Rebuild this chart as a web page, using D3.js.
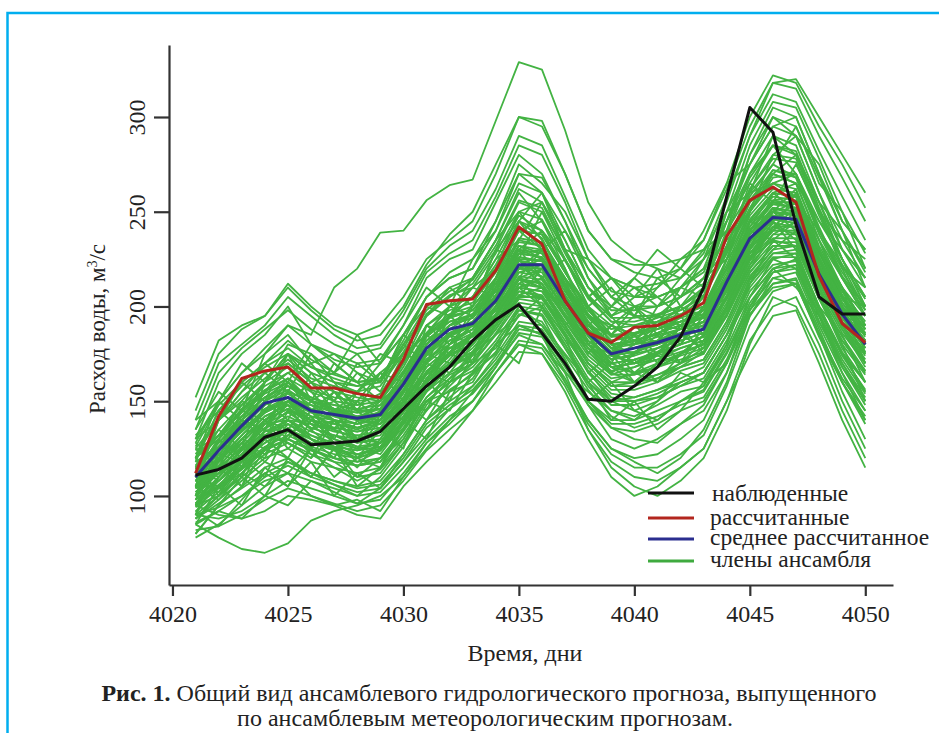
<!DOCTYPE html>
<html>
  <head>
    <meta charset="utf-8">
    <title>Ансамблевый гидрологический прогноз</title>
    <script src="https://cdn.jsdelivr.net/npm/d3@7"></script>
    <style>
      body { margin: 0; background: #fff; }
      svg { display: block; }
    </style>
  </head>
  <body>
    <svg id="chart" width="939" height="733"></svg>
    <script>
const SERIF = '"Liberation Serif", "Times New Roman", Times, "DejaVu Serif", serif';

// days 4021..4050
const days = d3.range(4021, 4051);
const xTicks = [4020, 4025, 4030, 4035, 4040, 4045, 4050];
const yTicks = [100, 150, 200, 250, 300];

const observed = [111,114,120,131,135,127,128,129,134,146,158,168,182,193,201,186,170,151,150,158,168,184,210,258,305,292,243,205,196,196];
const calculated = [112,142,162,166,168,157,157,154,152,172,201,203,204,219,242,233,203,186,181,189,190,195,202,237,256,263,255,216,191,181];
const meanCalc = [110,124,137,149,152,145,143,141,143,159,178,188,191,203,222,222,203,186,175,178,181,185,188,213,236,247,246,217,196,180];

// ensemble members, read approximately from the band
const members = [
  [120,150,165,175,190,185,210,220,239,240,256,264,267,298,329,325,293,255,235,225,220,215,225,255,290,318,320,300,280,260],
  [152,182,190,195,212,200,190,185,190,205,225,235,245,270,300,295,270,240,225,218,215,220,235,265,300,322,318,295,275,252],
  [85,78,72,70,75,87,92,95,100,110,125,140,155,170,185,180,165,135,115,105,100,108,120,145,180,205,200,175,145,120],
  [95,90,88,92,100,98,95,90,88,105,118,130,145,165,180,175,155,130,110,100,105,115,125,150,175,195,198,170,140,115],
  [110,130,145,160,175,165,160,158,162,180,200,210,215,235,262,255,230,205,195,200,205,210,218,245,275,295,290,260,230,210],
  [130,160,175,185,200,180,175,170,172,190,215,225,230,255,280,270,245,215,200,195,195,200,210,240,280,305,300,270,240,220],
  [100,115,125,138,140,132,128,125,128,145,165,175,180,195,215,212,195,178,168,170,172,178,182,200,228,240,240,212,190,175],
  [105,118,130,142,148,140,138,135,140,155,172,182,188,200,220,220,200,182,172,175,178,182,186,205,232,248,245,218,195,180],
  [115,128,140,150,158,150,148,145,146,162,182,192,195,208,228,226,208,190,178,182,186,190,194,215,240,255,252,222,200,185],
  [90,100,110,120,125,118,115,112,115,130,150,160,168,182,200,198,180,160,150,152,156,160,165,185,210,225,228,198,175,160],
  [125,140,155,165,170,160,155,152,150,168,190,200,205,220,240,238,218,198,188,190,192,196,200,222,250,265,262,232,210,195],
  [80,95,105,115,120,112,108,105,108,122,140,150,158,172,190,188,170,150,140,140,145,150,155,175,200,215,218,190,165,145],
  [112,122,134,146,150,144,140,138,142,156,175,186,190,205,225,224,205,188,176,178,182,186,190,210,236,250,248,220,198,182],
  [108,126,142,155,162,150,146,144,146,165,185,195,198,212,235,232,212,192,180,182,185,188,192,212,238,252,250,222,198,180],
  [140,170,180,190,205,195,185,178,180,198,220,232,240,262,290,285,258,230,215,210,212,215,228,258,290,312,308,282,258,235],
  [98,105,112,122,128,122,118,116,118,135,155,165,172,188,205,205,188,170,158,160,164,168,172,192,218,232,232,205,182,165],
  [120,135,148,158,165,156,152,150,152,170,190,198,202,218,240,238,218,198,185,186,190,192,198,220,248,262,260,230,208,192],
  [102,112,122,132,138,130,126,124,126,142,160,170,176,190,210,208,190,172,162,164,168,172,176,196,222,236,236,208,186,170],
  [88,96,104,112,118,112,108,104,106,120,138,148,156,170,188,186,168,150,138,138,142,148,152,172,198,212,214,186,162,145],
  [118,145,160,170,182,172,165,160,162,182,205,215,220,240,265,260,235,210,198,198,200,205,212,238,268,285,282,252,225,205],
  [105,120,135,145,150,148,145,142,140,150,165,180,195,210,230,240,225,200,185,180,182,188,195,205,225,245,255,240,215,195],
  [110,125,138,148,155,150,145,140,138,148,168,178,185,198,215,210,190,170,160,165,170,175,185,215,250,270,265,235,210,190],
  [95,108,120,132,140,138,135,130,128,138,155,168,178,192,210,215,200,180,168,165,168,175,180,195,220,238,245,225,200,178],
  [128,150,165,178,190,180,172,168,170,185,205,218,225,245,270,268,245,220,205,200,200,205,215,245,280,300,295,268,240,218],
  [100,108,118,128,135,130,125,122,125,140,158,168,175,190,208,205,185,165,152,150,152,158,165,185,212,228,230,200,175,155],
  [85,92,100,108,112,108,104,100,102,115,130,142,150,165,182,180,162,140,125,120,122,130,140,165,195,212,215,188,160,138],
  [122,140,152,162,172,162,158,155,158,175,195,205,212,230,255,250,225,205,192,192,195,200,208,232,262,280,278,250,225,205],
  [108,118,130,140,146,140,136,134,136,152,170,180,186,200,220,218,198,180,170,172,176,180,184,204,230,244,242,214,192,176],
  [92,102,115,125,130,124,120,118,120,135,152,162,170,185,202,200,182,162,150,150,154,160,165,185,212,226,226,198,174,156],
  [116,132,146,156,162,155,150,148,150,166,186,196,200,215,236,234,215,196,184,186,188,192,196,218,244,258,256,228,204,188],
  [135,165,178,188,198,188,180,175,178,195,218,228,235,258,285,280,255,225,208,205,205,210,220,250,285,308,305,278,250,228],
  [90,88,92,100,108,104,100,96,98,112,128,140,150,165,180,178,160,138,122,115,115,122,132,158,190,208,212,185,155,130],
  [104,116,128,140,146,138,134,132,134,150,168,178,184,198,218,216,198,180,170,172,175,180,184,204,230,246,244,216,194,178],
  [112,124,136,148,154,146,142,140,144,160,180,190,194,208,226,224,206,188,176,178,182,186,190,210,236,250,248,220,198,182],
  [82,84,90,98,104,100,96,92,95,108,124,135,145,160,176,175,158,135,118,110,108,115,125,150,182,200,205,180,150,125],
  [145,175,188,195,210,198,188,182,185,200,222,238,250,275,300,298,270,240,225,222,222,225,235,262,295,318,315,290,268,245],
  [100,112,124,136,142,136,132,128,130,146,164,174,180,194,214,212,194,176,166,168,172,176,180,200,226,240,240,212,190,174],
  [114,128,142,152,158,150,146,144,146,162,182,192,196,210,230,228,210,192,180,182,186,190,194,214,240,254,252,224,202,186],
  [96,110,122,134,140,134,130,126,128,142,160,170,176,190,210,208,190,170,160,160,164,170,175,195,220,234,234,206,184,166],
  [126,148,160,170,178,168,164,160,162,178,198,208,214,232,256,252,228,206,194,194,196,200,208,232,262,278,276,248,222,204],
  [100,130,115,150,140,165,150,170,160,185,175,200,195,220,250,235,215,200,210,195,215,205,225,240,270,285,270,245,230,215],
  [90,120,105,135,128,120,140,130,125,150,145,170,180,200,215,230,205,185,170,190,180,200,195,225,255,265,258,235,205,200],
  [125,115,140,135,160,145,130,150,140,160,185,175,200,230,225,250,230,205,215,200,190,210,220,235,250,280,290,260,235,225],
  [105,140,150,165,155,175,160,145,165,150,190,185,170,215,245,230,240,215,195,205,220,200,215,230,265,255,275,250,220,195],
  [95,100,120,110,135,125,140,120,135,125,160,150,175,185,195,205,190,165,175,160,170,190,175,200,235,245,230,215,190,170],
  [115,135,125,160,175,150,170,160,150,175,170,195,210,205,245,240,220,190,200,215,205,195,210,250,260,290,285,255,240,210],
  [85,105,95,115,105,125,110,120,115,140,130,155,165,180,170,200,185,150,160,145,150,165,160,180,215,230,240,210,180,150],
  [140,150,170,160,180,175,165,185,170,190,210,200,225,240,270,260,230,225,205,215,230,220,240,265,275,300,290,275,245,230],
  [100,125,140,130,150,160,145,150,165,160,180,195,185,210,230,215,225,200,180,175,190,200,185,205,245,240,260,230,210,175],
  [110,105,120,140,130,145,135,155,145,165,160,185,190,195,220,225,200,175,190,185,170,185,200,220,230,260,250,220,205,185],
  [80,95,110,100,120,110,125,105,115,135,150,145,165,175,200,190,175,160,140,150,135,145,160,170,200,220,210,195,165,140],
  [120,145,135,155,170,160,150,165,155,180,170,195,205,225,235,255,235,210,195,180,200,210,205,230,255,270,280,255,225,200],
  [95,115,130,125,140,130,120,140,125,145,165,160,175,200,205,220,195,185,165,175,185,170,190,210,225,250,255,225,195,190],
  [105,120,110,135,145,135,145,130,140,155,175,170,185,190,215,200,215,180,190,200,185,195,180,200,235,245,235,205,200,170],
  [130,140,155,170,160,180,170,160,175,170,195,210,200,230,245,260,240,220,205,195,210,225,230,240,260,275,295,265,250,220],
  [115,110,125,120,145,140,155,140,150,160,155,180,190,210,225,210,190,200,180,170,175,180,195,225,240,235,245,225,200,185],
  [100,130,120,140,135,150,140,130,145,140,170,165,180,205,220,230,210,190,185,195,190,180,200,215,245,260,265,235,215,195],
  [90,110,125,140,125,135,125,115,130,150,140,160,175,190,210,200,180,160,170,165,160,175,185,195,225,235,225,200,185,160],
  [125,120,145,155,165,170,155,145,150,170,190,180,190,215,240,230,210,195,185,200,195,205,215,225,260,265,270,240,220,210],
  [110,140,160,150,175,160,165,175,160,180,195,205,215,235,260,245,225,205,215,205,210,220,210,245,270,290,280,250,235,215],
  [100,115,105,125,120,110,125,110,120,130,150,155,160,180,190,185,165,155,145,140,150,160,165,185,205,220,225,195,175,155],
  [120,130,150,145,160,150,145,155,165,175,185,200,210,220,240,245,220,195,190,185,195,190,205,230,250,270,265,245,225,200],
  [105,125,140,135,155,145,155,145,135,155,175,185,180,200,225,210,200,185,175,190,180,185,200,210,240,250,240,215,195,185],
  [95,105,115,130,120,140,130,125,140,150,160,175,185,195,215,220,200,180,165,160,170,175,180,205,225,240,250,220,190,170],
  [135,155,145,175,185,170,175,165,160,185,205,215,220,245,275,265,250,225,215,210,200,215,230,250,275,295,300,270,245,230],
  [88,98,108,118,112,125,118,110,112,128,145,158,170,178,195,200,178,158,145,142,148,155,158,178,205,220,222,192,170,150],
  [112,130,145,140,150,145,150,140,148,160,175,190,200,215,230,225,205,188,180,180,190,188,198,220,240,255,255,228,210,190],
  [130,150,140,160,175,165,160,155,170,185,200,195,215,235,250,255,230,210,200,210,205,210,225,245,265,285,280,255,230,215],
  [120,100,115,135,150,140,135,130,135,155,170,185,190,205,225,215,195,180,175,170,178,185,192,215,235,250,245,230,205,180],
  [100,118,132,144,150,138,128,122,126,140,162,176,186,204,228,230,212,195,182,185,190,195,200,225,250,268,270,242,216,200],
  [78,85,95,105,112,100,95,98,92,110,128,138,150,168,190,185,160,140,125,118,112,120,135,160,195,215,212,185,160,140],
  [92,84,98,112,105,118,100,112,104,122,140,152,162,180,198,195,172,148,130,125,130,138,148,170,205,225,220,195,168,150],
  [105,98,112,125,135,122,115,108,114,128,148,162,176,192,212,205,186,166,150,145,140,150,158,180,212,235,232,205,178,160],
  [115,108,122,138,148,130,126,120,128,146,165,178,182,196,218,222,200,185,168,160,162,170,178,200,226,242,238,210,188,168],
  [98,120,128,118,132,142,128,118,124,138,158,168,182,200,222,212,195,178,165,172,160,168,176,196,230,252,248,222,190,172],
  [108,102,118,132,128,120,132,126,122,138,162,175,170,190,212,220,205,190,178,165,175,185,178,198,222,242,252,230,205,188],
  [124,132,148,160,168,155,142,138,145,160,180,194,205,222,245,236,212,192,178,175,182,195,205,228,252,272,268,238,215,198],
  [86,92,88,100,95,108,102,96,104,118,132,146,158,174,192,190,172,150,136,130,128,138,145,165,198,218,222,196,170,152],
  [104,112,128,122,138,130,124,132,128,144,160,172,186,198,214,210,192,176,164,168,174,170,182,205,228,244,242,218,196,182],
  [118,126,134,144,152,148,140,136,140,156,178,190,196,212,232,228,210,188,174,170,176,184,192,214,242,260,258,230,208,190],
  [96,106,116,126,132,126,122,120,124,136,156,168,174,188,206,204,186,168,156,156,160,166,170,190,216,230,232,204,180,164],
  [110,120,132,144,150,142,140,138,140,158,176,186,192,206,224,222,204,186,174,176,180,184,188,208,234,248,246,218,196,180],
  [102,114,126,138,144,136,132,130,132,148,166,176,182,196,216,214,196,178,168,170,174,178,182,202,228,242,242,214,192,176],
  [114,126,138,150,156,148,144,142,144,160,180,190,194,210,228,226,208,190,178,180,184,188,192,212,238,252,250,222,200,184],
  [106,116,128,140,146,140,136,134,138,152,172,182,188,202,222,220,202,184,172,174,178,182,186,206,232,246,244,216,194,178],
  [120,132,144,154,160,152,148,146,148,164,184,194,198,212,232,230,212,194,182,184,188,192,196,216,242,256,254,226,204,188],
  [94,104,114,124,130,124,120,116,118,132,150,160,166,180,198,196,178,160,148,148,152,158,162,182,208,222,224,196,172,154],
  [100,122,118,140,150,135,140,128,136,150,172,180,188,210,232,225,210,185,175,185,175,190,185,210,238,250,262,225,200,188],
  [128,118,138,150,162,150,158,148,154,172,186,200,205,225,248,240,218,200,190,182,192,198,205,232,258,275,268,240,222,198],
  [110,112,120,128,136,128,124,120,124,138,158,170,176,190,206,210,196,182,172,180,186,192,196,214,240,256,258,230,206,188],
  [88,100,112,105,118,112,106,100,110,126,146,156,164,176,196,192,174,156,142,136,140,150,156,176,202,218,220,192,168,148],
  [132,145,158,168,175,168,162,158,160,176,196,206,210,228,250,246,224,204,192,190,194,198,206,228,256,272,270,240,218,200],
  [98,110,124,134,138,132,126,124,128,144,162,174,180,194,212,210,192,174,164,164,168,174,178,198,224,238,238,210,188,170],
  [108,104,114,124,130,125,120,116,120,134,152,164,170,186,204,202,184,166,154,152,156,162,168,188,214,228,228,200,176,160],
  [116,124,134,146,152,145,140,136,140,156,176,186,192,206,226,224,206,188,176,178,180,186,190,210,236,250,248,220,198,182],
  [90,94,100,110,116,110,106,102,104,118,136,146,154,168,186,184,166,148,136,134,138,145,150,170,196,210,212,184,160,142],
  [104,118,130,142,148,142,138,136,138,154,174,184,190,204,224,222,204,186,174,176,180,184,188,208,234,248,246,218,196,180],
  [112,130,142,152,160,150,146,142,146,162,184,194,198,214,234,232,214,196,184,186,188,194,198,220,246,260,258,230,206,190],
  [96,108,118,130,134,128,124,122,124,140,158,170,176,190,208,206,188,170,158,158,162,168,172,192,218,232,232,204,182,166],
  [118,124,140,152,158,152,146,140,142,160,178,188,196,210,228,226,210,190,180,182,186,190,195,216,240,254,252,226,202,186]
];

const legendLabels = ['наблюденные', 'рассчитанные', 'среднее рассчитанное', 'члены ансамбля'];
const legendColors = ['#111111', '#b3261e', '#2b2e8f', '#3faa3f'];

const svg = d3.select('#chart').attr('font-family', SERIF);

// blue frame (top and left edges)
svg.append('path')
  .attr('d', 'M7.5,733 L7.5,13 L939,13')
  .attr('fill', 'none')
  .attr('stroke', '#00aeef')
  .attr('stroke-width', 2.5);

let x = d3.scaleLinear().domain([4019.85, 4051.2]).range([169, 893]);
let y = d3.scaleLinear().domain([53, 338]).range([585, 45]);

let line = d3.line()
  .x((d, i) => x(days[i]))
  .y(d => y(d));

let plot = svg.append('g');

plot.selectAll('.member')
  .data(members)
  .enter()
  .append('path')
  .attr('class', 'member')
  .attr('d', line)
  .attr('fill', 'none')
  .attr('stroke', '#43b343')
  .attr('stroke-width', 1.8)
  .attr('stroke-linejoin', 'round');

[[meanCalc, '#2b2e8f'], [calculated, '#b3261e'], [observed, '#111111']].forEach(function(s) {
  plot.append('path')
    .attr('d', line(s[0]))
    .attr('fill', 'none')
    .attr('stroke', s[1])
    .attr('stroke-width', 3)
    .attr('stroke-linejoin', 'round');
});

// axes
let xAxis = svg.append('g')
  .attr('transform', 'translate(0,585)')
  .call(d3.axisBottom(x).tickValues(xTicks).tickSize(11).tickSizeOuter(0).tickFormat(d3.format('d')));

let yAxis = svg.append('g')
  .attr('transform', 'translate(169,0)')
  .call(d3.axisLeft(y).tickValues(yTicks).tickSize(15).tickSizeOuter(0));

[xAxis, yAxis].forEach(function(a) {
  a.attr('font-family', SERIF).attr('font-size', 24);
  a.select('.domain').attr('stroke', '#333').attr('stroke-width', 2.2);
  a.selectAll('.tick line').attr('stroke', '#333').attr('stroke-width', 2.2);
  a.selectAll('.tick text').attr('fill', '#222');
});

xAxis.selectAll('.tick text').attr('y', 20).attr('dy', '0.71em');

yAxis.selectAll('.tick text')
  .attr('x', null).attr('dy', null)
  .attr('text-anchor', 'middle')
  .attr('transform', 'translate(-24,0) rotate(-90)')
  .attr('y', 0);

// axis titles
svg.append('text')
  .attr('x', 525)
  .attr('y', 661)
  .attr('text-anchor', 'middle')
  .attr('fill', '#222')
  .attr('font-size', 24)
  .text('Время, дни');

let yTitle = svg.append('text')
  .attr('transform', 'translate(105,329) rotate(-90)')
  .attr('text-anchor', 'middle')
  .attr('fill', '#222')
  .attr('font-size', 23);
yTitle.append('tspan').text('Расход воды, м');
yTitle.append('tspan').attr('dy', -8).attr('font-size', 14).text('3');
yTitle.append('tspan').attr('dy', 8).text('/с');

// legend
let legend = svg.append('g');
let legendLineY = [493, 518, 539, 561];
let legendTextY = [501, 525, 545, 567];
legendLabels.forEach(function(label, i) {
  legend.append('line')
    .attr('x1', 648).attr('x2', 694)
    .attr('y1', legendLineY[i]).attr('y2', legendLineY[i])
    .attr('stroke', legendColors[i])
    .attr('stroke-width', 3);
  legend.append('text')
    .attr('x', i === 0 ? 712 : 710)
    .attr('y', legendTextY[i])
    .attr('fill', '#222')
    .attr('font-size', 23.5)
    .text(label);
});

// caption
let cap1 = svg.append('text')
  .attr('x', 489)
  .attr('y', 701)
  .attr('text-anchor', 'middle')
  .attr('fill', '#222')
  .attr('font-size', 24);
cap1.append('tspan').attr('font-weight', 'bold').text('Рис. 1.');
cap1.append('tspan').text(' Общий вид ансамблевого гидрологического прогноза, выпущенного');

svg.append('text')
  .attr('x', 485)
  .attr('y', 726)
  .attr('text-anchor', 'middle')
  .attr('fill', '#222')
  .attr('font-size', 24)
  .text('по ансамблевым метеорологическим прогнозам.');
    </script>
  </body>
</html>
